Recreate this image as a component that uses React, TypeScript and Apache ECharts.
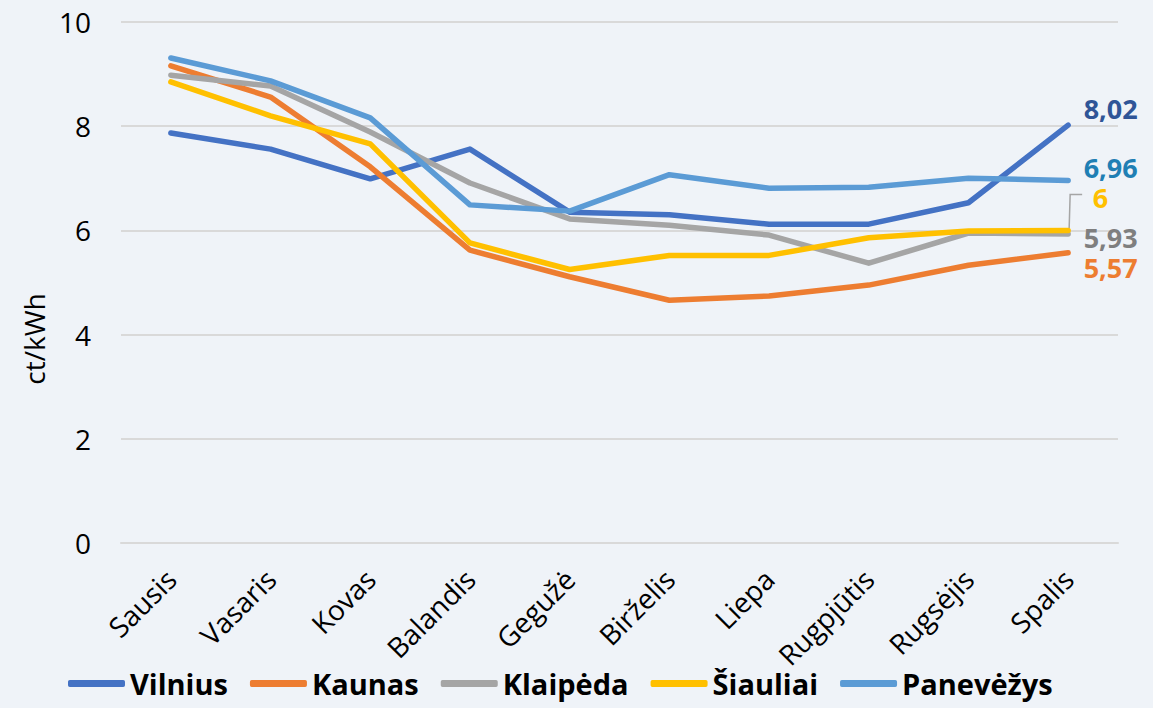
import React, { useEffect, useRef } from "react";
import * as echarts from "echarts";

const months = ["Sausis", "Vasaris", "Kovas", "Balandis", "Gegužė", "Birželis", "Liepa", "Rugpjūtis", "Rugsėjis", "Spalis"];
const vilnius = [7.87, 7.56, 6.99, 7.56, 6.35, 6.3, 6.12, 6.12, 6.53, 8.02];
const kaunas = [9.16, 8.56, 7.22, 5.62, 5.11, 4.66, 4.74, 4.95, 5.33, 5.57];
const klaipeda = [8.98, 8.77, 7.89, 6.91, 6.22, 6.1, 5.91, 5.37, 5.95, 5.93];
const siauliai = [8.85, 8.2, 7.66, 5.76, 5.25, 5.52, 5.52, 5.86, 5.99, 6.0];
const panevezys = [9.31, 8.87, 8.16, 6.49, 6.37, 7.07, 6.81, 6.83, 7.0, 6.96];

const seriesNames = ["Vilnius", "Kaunas", "Klaipėda", "Šiauliai", "Panevėžys"];
const seriesData = [vilnius, kaunas, klaipeda, siauliai, panevezys];
const lineColors = ["#4472C4", "#ED7D31", "#A5A5A5", "#FFC000", "#5B9BD5"];
const labelColors = ["#2F5597", "#ED7D31", "#7F7F7F", "#FFC000", "#1F7FB4"];
const yTicks = [0, 2, 4, 6, 8, 10];

const FONT = "'Open Sans', 'Noto Sans', sans-serif";

export default function App() {
  const ref = useRef<HTMLDivElement>(null);
  useEffect(() => {
    if (!ref.current) return;
    const chart = echarts.init(ref.current, null, { renderer: "svg" });
    const labelPos = [
      { distance: 15, offset: [0, -17] },
      { distance: 15, offset: [0, 15] },
      { distance: 15, offset: [0, 3] },
      { distance: 24, offset: [0, -33] },
      { distance: 15, offset: [0, -13] },
    ];
    const series = seriesNames.map((name, i) => {
      const last = seriesData[i].length - 1;
      const data: any[] = seriesData[i].map((v, j) => {
        if (j !== last) return v;
        return {
          value: v,
          label: {
            show: true,
            position: "right",
            distance: labelPos[i].distance,
            offset: labelPos[i].offset,
            color: labelColors[i],
            fontSize: 27,
            lineHeight: 20,
            fontWeight: "bold",
            fontFamily: FONT,
            formatter: (p: any) => String(p.value).replace(".", ","),
          },
        };
      });
      return {
        name,
        type: "line",
        data,
        symbol: "circle",
        symbolSize: 1,
        showSymbol: true,
        lineStyle: { color: lineColors[i], width: 5.5, cap: "round", join: "round" },
        itemStyle: { color: lineColors[i] },
        z: 2 + i,
      };
    });
    const yName = {
      type: "text",
      x: 34,
      y: 339,
      rotation: Math.PI / 2,
      style: {
        text: "ct/kWh",
        fill: "#000",
        fontSize: 28,
        fontFamily: FONT,
        align: "center",
        verticalAlign: "middle",
      },
    };
    chart.setOption({
      animation: false,
      backgroundColor: "#EFF3F8",
      grid: { left: 121, right: 35, top: 22, bottom: 165 },
      legend: {
        top: 664,
        left: 63,
        icon: "roundRect",
        itemWidth: 57,
        itemHeight: 7,
        itemGap: 22,
        textStyle: { color: "#000", fontSize: 29, fontWeight: "bold", fontFamily: FONT },
        data: seriesNames,
      },
      xAxis: {
        type: "category",
        data: months,
        boundaryGap: true,
        axisLine: { show: true, lineStyle: { color: "#D9D9D9", width: 2 } },
        axisTick: { show: false },
        axisLabel: { rotate: 45, margin: 31, color: "#000", fontSize: 28, fontFamily: FONT, interval: 0 },
      },
      yAxis: {
        type: "value",
        min: yTicks[0],
        max: yTicks[yTicks.length - 1],
        interval: 2,
        axisLine: { show: false },
        axisTick: { show: false },
        splitLine: { lineStyle: { color: "#D9D9D9", width: 2 } },
        axisLabel: { margin: 30, color: "#000", fontSize: 28, fontFamily: FONT },
      },
      graphic: [yName],
      series,
    });
    // leader line for the Šiauliai end label, anchored on the library's pixel conversion
    const p = chart.convertToPixel({ seriesIndex: 3 }, [months.length - 1, siauliai[siauliai.length - 1]]) as number[];
    if (p) {
      chart.setOption({
        graphic: [
          yName,
          {
            type: "polyline",
            shape: { points: [[p[0] + 1, p[1] - 2], [p[0] + 2, p[1] - 36], [p[0] + 14, p[1] - 36]] },
            style: { stroke: "#A5A5A5", lineWidth: 1.5, fill: "none" },
            z: 1,
          },
        ],
      });
    }
    return () => chart.dispose();
  }, []);
  return <div ref={ref} style={{ width: 1153, height: 708, position: "absolute", left: 0, top: 0 }} />;
}
